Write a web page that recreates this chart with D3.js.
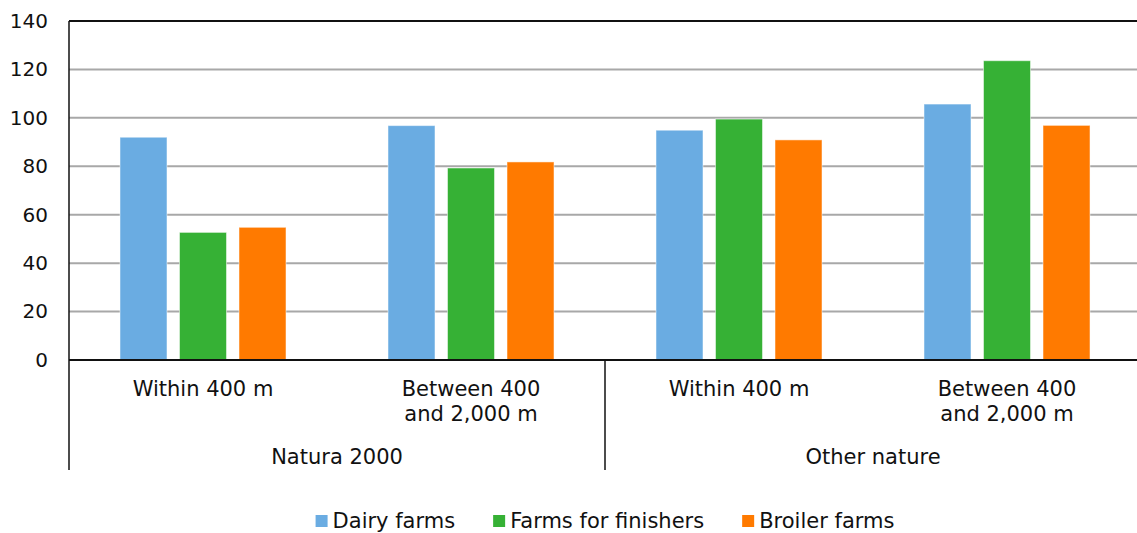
<!DOCTYPE html>
<html>
<head>
<meta charset="utf-8">
<script src="https://cdn.jsdelivr.net/npm/d3@7"></script>
<style>
  body { margin: 0; background: #fff; }
  text { font-family: Verdana, "DejaVu Sans", sans-serif; fill: #111; }
</style>
</head>
<body>
<div id="chart"></div>
<script>
// categories (two levels) and series
const groups = ['Natura 2000', 'Other nature'];
const distances = [['Within 400 m'], ['Between 400', 'and 2,000 m'], ['Within 400 m'], ['Between 400', 'and 2,000 m']];
const seriesNames = ['Dairy farms', 'Farms for finishers', 'Broiler farms'];
const colors = ['#6aace2', '#36b135', '#ff7a00'];

// values, one entry per distance band
const dairyFarms = [92.0, 96.8, 94.9, 105.7];
const finisherFarms = [52.7, 79.3, 99.5, 123.6];
const broilerFarms = [54.8, 81.8, 90.9, 96.9];
const yTicks = [0, 20, 40, 60, 80, 100, 120, 140];

const seriesValues = [dairyFarms, finisherFarms, broilerFarms];

// svg size and plot area
const W = 1137, H = 533;
const plot = { left: 69, top: 21, right: 1141, bottom: 360 };
const tickFont = 20;
const labelFont = 21;

const svg = d3.select('#chart')
    .append('svg')
    .attr('width', W)
    .attr('height', H);

// x scales
var x = d3.scaleBand()
    .domain(d3.range(distances.length))
    .range([plot.left, plot.right])
    .padding(0);

var xInner = d3.scaleBand()
    .domain(seriesNames)
    .range([0, x.bandwidth()])
    .paddingInner(0.21)
    .paddingOuter(0.857);

// y scale
var y = d3.scaleLinear()
    .domain([0, 140])
    .range([plot.bottom, plot.top]);

// gridlines
svg.append('g')
    .selectAll('line')
    .data(yTicks.filter(function (d) { return d > 0 && d < 140; }))
    .enter()
    .append('line')
    .attr('x1', plot.left)
    .attr('x2', plot.right)
    .attr('y1', function (d) { return y(d); })
    .attr('y2', function (d) { return y(d); })
    .attr('stroke', '#a8a8a8')
    .attr('stroke-width', 2);

// top border
svg.append('line')
    .attr('x1', plot.left).attr('x2', plot.right)
    .attr('y1', y(140)).attr('y2', y(140))
    .attr('stroke', '#111').attr('stroke-width', 2);

// bars
seriesNames.forEach(function (name, i) {
    svg.append('g')
        .selectAll('rect')
        .data(seriesValues[i])
        .enter()
        .append('rect')
        .attr('x', function (d, j) { return x(j) + xInner(name); })
        .attr('y', function (d) { return y(d); })
        .attr('width', xInner.bandwidth())
        .attr('height', function (d) { return y(0) - y(d); })
        .attr('fill', colors[i])
        .attr('stroke', '#fff')
        .attr('stroke-opacity', 0.5)
        .attr('stroke-width', 1);
});

// y axis
var yAxis = svg.append('g')
    .attr('transform', 'translate(' + plot.left + ',0)')
    .call(d3.axisLeft(y).tickValues(yTicks).tickSize(0).tickPadding(21));
yAxis.select('.domain').remove();
yAxis.selectAll('text')
    .style('font-size', tickFont + 'px')
    .style('font-family', 'Verdana, "DejaVu Sans", sans-serif')
    .attr('fill', '#111');

// left axis line, runs down through the category labels
svg.append('line')
    .attr('x1', plot.left).attr('x2', plot.left)
    .attr('y1', plot.top).attr('y2', 470)
    .attr('stroke', '#111').attr('stroke-width', 1.5);

// separator between the two groups
svg.append('line')
    .attr('x1', x(2)).attr('x2', x(2))
    .attr('y1', plot.bottom).attr('y2', 470)
    .attr('stroke', '#111').attr('stroke-width', 1.5);

// zero line
svg.append('line')
    .attr('x1', plot.left).attr('x2', plot.right)
    .attr('y1', y(0)).attr('y2', y(0))
    .attr('stroke', '#111').attr('stroke-width', 2);

// distance labels
var catText = svg.append('g')
    .selectAll('text')
    .data(distances)
    .enter()
    .append('text')
    .attr('text-anchor', 'middle')
    .style('font-size', labelFont + 'px');

catText.selectAll('tspan')
    .data(function (d, j) { return d.map(function (line, k) { return { line: line, j: j, k: k }; }); })
    .enter()
    .append('tspan')
    .attr('x', function (d) { return x(d.j) + x.bandwidth() / 2; })
    .attr('y', function (d) { return 396 + d.k * 25; })
    .text(function (d) { return d.line; });

// group labels
svg.append('g')
    .selectAll('text')
    .data(groups)
    .enter()
    .append('text')
    .attr('text-anchor', 'middle')
    .attr('x', function (d, g) { return x(g * 2) + x.bandwidth(); })
    .attr('y', 464)
    .style('font-size', labelFont + 'px')
    .text(function (d) { return d; });

// legend
var legend = svg.append('g');
var items = legend.selectAll('g')
    .data(seriesNames)
    .enter()
    .append('g');

items.append('rect')
    .attr('width', 12)
    .attr('height', 12)
    .attr('y', -13)
    .attr('fill', function (d, i) { return colors[i]; });

items.append('text')
    .attr('x', 17)
    .style('font-size', labelFont + 'px')
    .text(function (d) { return d; });

var gap = 38;
var offset = 0;
items.each(function () {
    var w = 17 + d3.select(this).select('text').node().getComputedTextLength();
    d3.select(this).attr('transform', 'translate(' + offset + ',0)');
    offset += w + gap;
});
var legendWidth = offset - gap;
legend.attr('transform', 'translate(' + (x(2) - legendWidth / 2) + ',528)');
</script>
</body>
</html>
